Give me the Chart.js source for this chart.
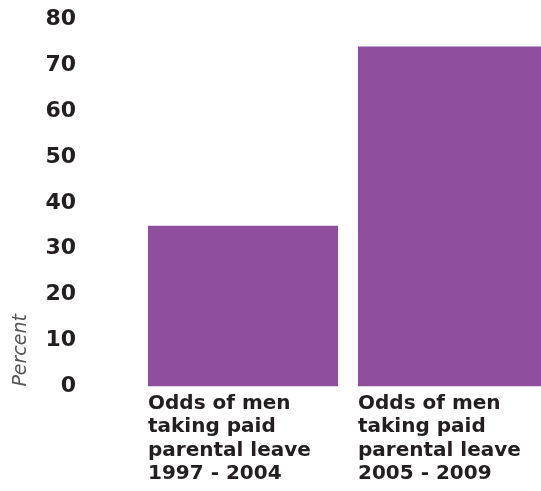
<!DOCTYPE html>
<html>
<head>
<meta charset="utf-8">
<script src="https://cdn.jsdelivr.net/npm/chart.js@4/dist/chart.umd.min.js"></script>
<style>
  html, body { margin: 0; padding: 0; background: #fff; overflow: hidden; }
  /* wider than the window: the second bar runs off the right edge in the original */
  #wrap { width: 558px; height: 491px; }
</style>
</head>
<body>
<div id="wrap"><canvas id="myChart"></canvas></div>
<script>
const categories = [
  ['Odds of men', 'taking paid', 'parental leave', '1997 - 2004'],
  ['Odds of men', 'taking paid', 'parental leave', '2005 - 2009']
];
const percentValues = [35, 74];
const yTicks = [0, 10, 20, 30, 40, 50, 60, 70, 80];

const BAR_COLOR = '#8f4f9e';
const TEXT_COLOR = '#231f20';

// chart.js reserves room for wide/padded labels; we place them ourselves
function noPadding(scale) {
  scale.paddingLeft = 0;
  scale.paddingRight = 0;
  scale.paddingTop = 0;
  scale.paddingBottom = 0;
}

const config = {
  type: 'bar',
  data: {
    labels: categories,
    datasets: [{
      label: 'Percent',
      data: percentValues,
      backgroundColor: BAR_COLOR,
      barPercentage: 0.905,
      categoryPercentage: 1.0
    }]
  },
  options: {
    responsive: true,
    maintainAspectRatio: false,
    animation: false,
    layout: {
      padding: { top: 19, right: 0, bottom: 0, left: 4 }
    },
    plugins: {
      legend: { display: false },
      tooltip: { enabled: false }
    },
    scales: {
      x: {
        grid: { display: false, drawTicks: false },
        border: { display: false },
        afterFit: noPadding,
        ticks: {
          color: TEXT_COLOR,
          align: 'start',
          labelOffset: -95,
          padding: 5,
          maxRotation: 0,
          autoSkip: false,
          font: { family: 'DejaVu Sans', weight: 'bold', size: 20, lineHeight: 1.18 }
        }
      },
      y: {
        min: 0,
        max: 80,
        afterBuildTicks: (axis) => { axis.ticks = yTicks.map(v => ({ value: v })); },
        afterFit: (scale) => { noPadding(scale); scale.width = 134; },
        grid: { display: false, drawTicks: false },
        border: { display: false },
        title: {
          display: true,
          text: 'Percent',
          align: 'start',
          color: '#555',
          padding: { top: 6, bottom: 0 },
          font: { family: 'DejaVu Sans', style: 'italic', size: 19 }
        },
        ticks: {
          color: TEXT_COLOR,
          padding: 62,
          font: { family: 'DejaVu Sans', weight: 'bold', size: 22 }
        }
      }
    }
  }
};

const ctx = document.getElementById('myChart').getContext('2d');
const myChart = new Chart(ctx, config);
</script>
</body>
</html>
